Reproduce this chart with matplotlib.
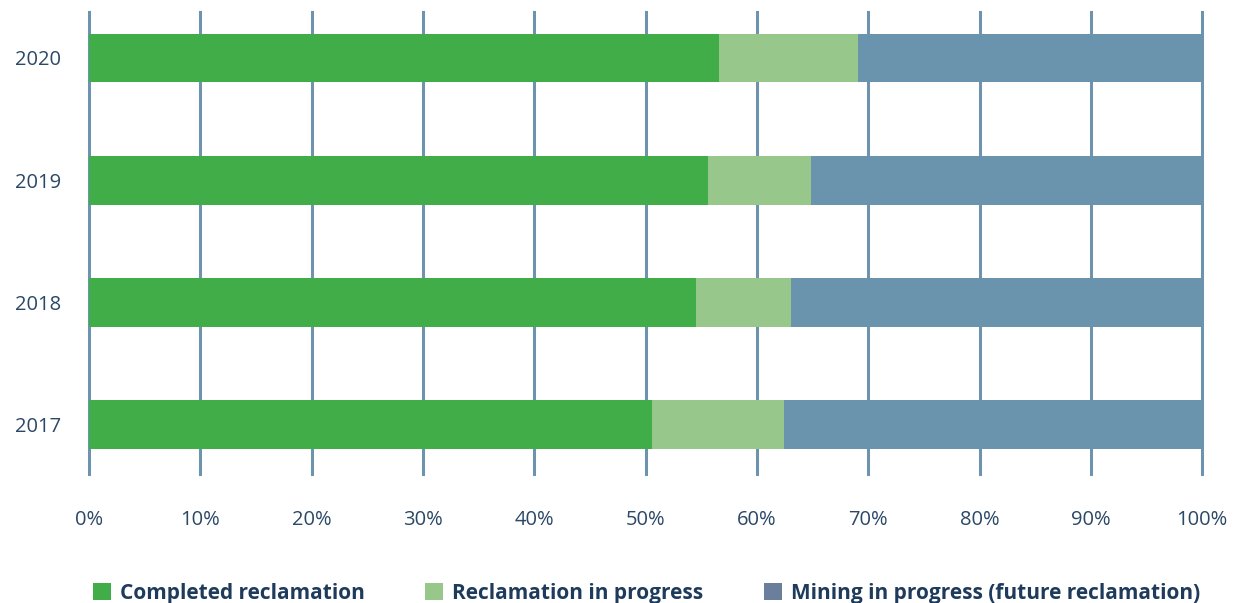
import matplotlib
matplotlib.use("Agg")
import matplotlib.pyplot as plt
from matplotlib.patches import Patch
import numpy as np

years = ["2017", "2018", "2019", "2020"]
completed = [50.6, 54.5, 55.6, 56.6]
in_progress = [11.8, 8.6, 9.3, 12.5]
mining = [37.6, 36.9, 35.1, 30.9]

series_names = ["Completed reclamation", "Reclamation in progress",
                "Mining in progress (future reclamation)"]
colors = ["#41ad49", "#98c78b", "#6a93ae"]
legend_colors = ["#41ad49", "#98c78b", "#6a7f9c"]
text_color = "#2b4866"
legend_text_color = "#1f3b5c"

plt.rcParams["font.family"] = ["Open Sans", "DejaVu Sans"]

fig = plt.figure(figsize=(12.33, 6.03), dpi=100)
ax = fig.add_axes([0.0722, 0.214, 0.9028, 0.766])

y = np.arange(len(years))
left = np.zeros(len(years))
for vals, col in zip([completed, in_progress, mining], colors):
    ax.barh(y, vals, left=left, height=0.4, color=col, zorder=3)
    left += np.array(vals)

ax.set_xlim(0, 100)
ax.set_ylim(-0.405, 3.376)
ax.set_xticks(np.arange(0, 101, 10))
ax.set_xticklabels([f"{v}%" for v in range(0, 101, 10)])
ax.set_yticks(y)
ax.set_yticklabels(years)
ax.tick_params(axis="both", length=0, labelsize=14.5, labelcolor=text_color)
ax.tick_params(axis="x", pad=26)
ax.tick_params(axis="y", pad=20)
ax.grid(axis="x", color="#6e93ae", linewidth=2.2, zorder=0)
ax.grid(axis="y", visible=False)
for gl in ax.get_xgridlines():
    gl.set_clip_on(False)
for s in ax.spines.values():
    s.set_visible(False)

handles = [Patch(facecolor=c, edgecolor="none") for c in legend_colors]
leg = fig.legend(handles, series_names, loc="center left",
                 bbox_to_anchor=(0.0685, 0.016), ncol=3, frameon=False,
                 handlelength=0.85, handleheight=0.85, handletextpad=0.45,
                 columnspacing=2.9, borderaxespad=0,
                 prop={"weight": "bold", "size": 15.0})
for t in leg.get_texts():
    t.set_color(legend_text_color)

fig.savefig("out.png", dpi=100)
